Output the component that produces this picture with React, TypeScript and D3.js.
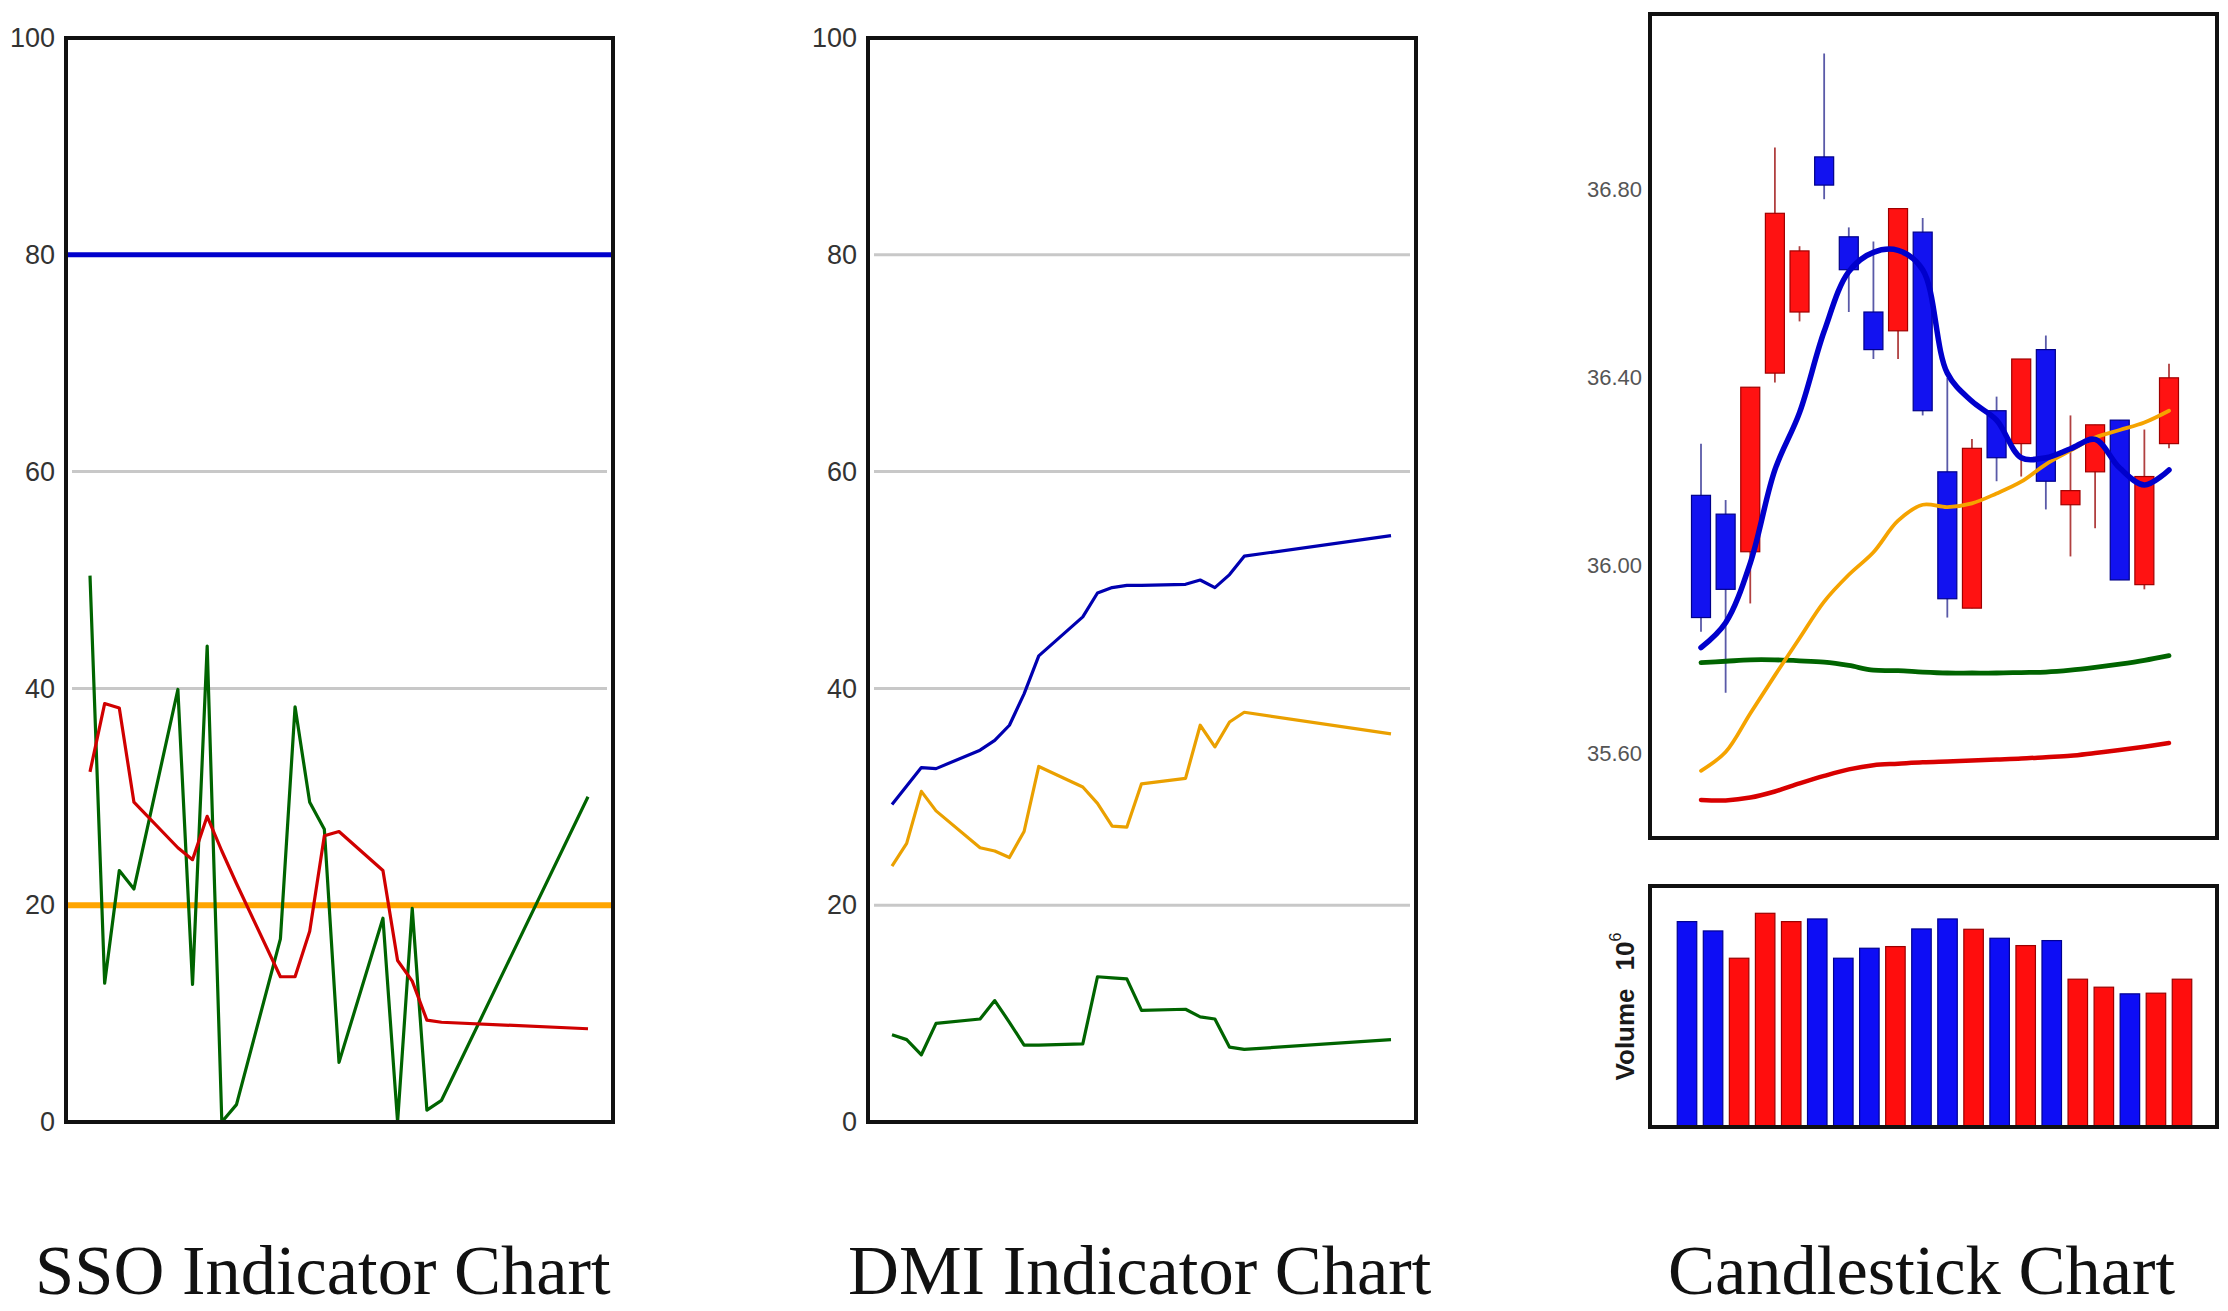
import React, { useEffect, useRef } from 'react';
import * as d3 from 'd3';

// trading day offsets shared by the SSO / DMI panels (gaps = non-trading days)
const dayIndex = [0, 1, 2, 3, 6, 7, 8, 9, 10, 13, 14, 15, 16, 17, 20, 21, 22, 23, 24, 34];

// SSO indicator
const ssoK = [50.4, 12.8, 23.2, 21.5, 39.9, 12.7, 43.9, 0, 1.6, 16.9, 38.3, 29.5, 27.0, 5.5, 18.8, 0, 19.7, 1.1, 2.0, 30.0];
const ssoD = [32.3, 38.6, 38.2, 29.5, 25.3, 24.2, 28.2, 25.0, 22.0, 13.4, 13.4, 17.6, 26.4, 26.8, 23.2, 14.9, 13.0, 9.4, 9.2, 8.6];
const ssoUpper = 80;
const ssoLower = 20;

// DMI indicator
const dmiPdi = [29.3, 31.0, 32.7, 32.6, 34.3, 35.2, 36.6, 39.5, 43.0, 46.6, 48.8, 49.3, 49.5, 49.5, 49.6, 50.0, 49.3, 50.5, 52.2, 54.1];
const dmiAdx = [23.6, 25.7, 30.5, 28.7, 25.3, 25.0, 24.4, 26.8, 32.8, 30.9, 29.4, 27.3, 27.2, 31.2, 31.7, 36.6, 34.6, 36.9, 37.8, 35.8];
const dmiMdi = [8.05, 7.6, 6.2, 9.1, 9.5, 11.2, 9.2, 7.1, 7.1, 7.2, 13.4, 13.3, 13.2, 10.3, 10.4, 9.7, 9.5, 6.9, 6.7, 7.6];

const pctTicks = [0, 20, 40, 60, 80, 100];
const pctGrid = [20, 40, 60, 80];

// candlestick
const open = [36.15, 36.11, 36.03, 36.41, 36.54, 36.87, 36.70, 36.54, 36.50, 36.71, 36.20, 35.91, 36.33, 36.26, 36.46, 36.13, 36.20, 36.31, 35.96, 36.26];
const high = [36.26, 36.14, 36.38, 36.89, 36.68, 37.09, 36.72, 36.69, 36.76, 36.74, 36.40, 36.27, 36.36, 36.44, 36.49, 36.32, 36.30, 36.31, 36.29, 36.43];
const low = [35.86, 35.73, 35.92, 36.39, 36.52, 36.78, 36.54, 36.44, 36.44, 36.32, 35.89, 35.91, 36.18, 36.19, 36.12, 36.02, 36.08, 35.97, 35.95, 36.25];
const close = [35.89, 35.95, 36.38, 36.75, 36.67, 36.81, 36.63, 36.46, 36.76, 36.33, 35.93, 36.25, 36.23, 36.44, 36.18, 36.16, 36.30, 35.97, 36.19, 36.40];

const ma5 = [35.826, 35.879, 36.006, 36.204, 36.326, 36.499, 36.626, 36.667, 36.671, 36.630, 36.41, 36.35, 36.31, 36.230, 36.230, 36.249, 36.269, 36.208, 36.172, 36.204];
const ma10 = [35.564, 35.604, 35.686, 35.767, 35.846, 35.924, 35.981, 36.029, 36.096, 36.130, 36.125, 36.133, 36.154, 36.179, 36.216, 36.245, 36.273, 36.289, 36.305, 36.330];
const ma20 = [35.794, 35.797, 35.800, 35.800, 35.798, 35.795, 35.788, 35.778, 35.777, 35.774, 35.772, 35.772, 35.772, 35.773, 35.774, 35.778, 35.784, 35.791, 35.799, 35.809];
const ma60 = [35.502, 35.501, 35.507, 35.520, 35.537, 35.553, 35.567, 35.576, 35.579, 35.582, 35.584, 35.586, 35.588, 35.590, 35.593, 35.596, 35.602, 35.608, 35.615, 35.623];

const priceTicks = [35.6, 36.0, 36.4, 36.8];

// volume, 10^6
const volume = [6.17, 5.89, 5.07, 6.42, 6.17, 6.25, 5.07, 5.37, 5.42, 5.95, 6.25, 5.94, 5.67, 5.45, 5.60, 4.44, 4.20, 4.00, 4.02, 4.44];

const titles = ['SSO Indicator Chart', 'DMI Indicator Chart', 'Candlestick Chart'];

const W = 2228;
const H = 1311;
const SANS = '"Liberation Sans", Arial, sans-serif';

const App = () => {
  const ref = useRef<SVGSVGElement>(null);

  useEffect(() => {
    const svg = d3.select(ref.current);
    svg.selectAll('*').remove();

    const frame = (x0: number, y0: number, x1: number, y1: number) =>
      svg
        .append('rect')
        .attr('x', x0)
        .attr('y', y0)
        .attr('width', x1 - x0)
        .attr('height', y1 - y0)
        .attr('fill', 'none')
        .attr('stroke', '#111')
        .attr('stroke-width', 4);

    const styleAxis = (g: any, size: number, color: string) => {
      g.select('.domain').remove();
      g.selectAll('text')
        .attr('font-family', SANS)
        .attr('font-size', size)
        .attr('fill', color);
    };

    // ---------- indicator panels (SSO, DMI) ----------
    const top = 38;
    const bottom = 1122;
    const yPct = d3.scaleLinear().domain([0, 100]).range([bottom, top]);

    const indicatorPanel = (
      left: number,
      right: number,
      series: { values: number[]; color: string; width: number }[],
      levels: { value: number; color: string; width: number }[]
    ) => {
      const x = d3
        .scaleLinear()
        .domain([0, 34])
        .range([left + 24, right - 25]);

      svg
        .append('g')
        .selectAll('line')
        .data(pctGrid)
        .join('line')
        .attr('x1', left + 6)
        .attr('x2', right - 6)
        .attr('y1', (d) => yPct(d))
        .attr('y2', (d) => yPct(d))
        .attr('stroke', '#c8c8c8')
        .attr('stroke-width', 3);

      levels.forEach((l) => {
        svg
          .append('line')
          .attr('x1', left)
          .attr('x2', right)
          .attr('y1', yPct(l.value))
          .attr('y2', yPct(l.value))
          .attr('stroke', l.color)
          .attr('stroke-width', l.width);
      });

      series.forEach((s) => {
        const line = d3
          .line<number>()
          .x((_, i) => x(dayIndex[i]))
          .y((d) => yPct(d));
        svg
          .append('path')
          .datum(s.values)
          .attr('fill', 'none')
          .attr('stroke', s.color)
          .attr('stroke-width', s.width)
          .attr('stroke-linejoin', 'round')
          .attr('d', line);
      });

      const ax = svg
        .append('g')
        .attr('transform', `translate(${left},0)`)
        .call(d3.axisLeft(yPct).tickValues(pctTicks).tickSize(0).tickPadding(11));
      styleAxis(ax, 27, '#333');

      frame(left, top, right, bottom);
    };

    indicatorPanel(
      66,
      613,
      [
        { values: ssoK, color: '#006400', width: 3.2 },
        { values: ssoD, color: '#d00000', width: 3.2 },
      ],
      [
        { value: ssoUpper, color: '#0000cc', width: 5 },
        { value: ssoLower, color: '#ffa500', width: 6 },
      ]
    );

    indicatorPanel(
      868,
      1416,
      [
        { values: dmiPdi, color: '#0000b0', width: 3.2 },
        { values: dmiAdx, color: '#eaa000', width: 3.2 },
        { values: dmiMdi, color: '#006400', width: 3.2 },
      ],
      []
    );

    // ---------- candlestick panel ----------
    const cLeft = 1650;
    const cRight = 2217;
    const cTop = 14;
    const cBottom = 838;
    const idx = d3.range(open.length);

    const xC = d3.scaleLinear().domain([0, 19]).range([1701, 2169]);
    const yC = d3.scaleLinear().domain([35.421, 37.174]).range([cBottom, cTop]);
    const bodyW = 19;
    const isUp = (i: number) => close[i] >= open[i];

    svg
      .append('g')
      .selectAll('line')
      .data(idx)
      .join('line')
      .attr('x1', (i) => xC(i))
      .attr('x2', (i) => xC(i))
      .attr('y1', (i) => yC(high[i]))
      .attr('y2', (i) => yC(low[i]))
      .attr('stroke', (i) => (isUp(i) ? '#b04040' : '#5a5aa8'))
      .attr('stroke-width', 1.8);

    svg
      .append('g')
      .selectAll('rect')
      .data(idx)
      .join('rect')
      .attr('x', (i) => xC(i) - bodyW / 2)
      .attr('width', bodyW)
      .attr('y', (i) => yC(Math.max(open[i], close[i])))
      .attr('height', (i) => Math.max(2, Math.abs(yC(open[i]) - yC(close[i]))))
      .attr('fill', (i) => (isUp(i) ? '#ff1212' : '#1212f0'))
      .attr('stroke', (i) => (isUp(i) ? '#a00000' : '#00008a'))
      .attr('stroke-width', 1.2);

    const maLines = [
      { values: ma60, color: '#d80000', width: 4.5 },
      { values: ma20, color: '#006400', width: 4.8 },
      { values: ma10, color: '#f5a300', width: 3.8 },
      { values: ma5, color: '#0000cc', width: 5.5 },
    ];
    maLines.forEach((m) => {
      const line = d3
        .line<number>()
        .curve(d3.curveCatmullRom)
        .x((_, i) => xC(i))
        .y((d) => yC(d));
      svg
        .append('path')
        .datum(m.values)
        .attr('fill', 'none')
        .attr('stroke', m.color)
        .attr('stroke-width', m.width)
        .attr('stroke-linecap', 'round')
        .attr('d', line);
    });

    const axC = svg
      .append('g')
      .attr('transform', `translate(${cLeft},0)`)
      .call(
        d3
          .axisLeft(yC)
          .tickValues(priceTicks)
          .tickFormat(d3.format('.2f'))
          .tickSize(0)
          .tickPadding(8)
      );
    styleAxis(axC, 22, '#555');

    frame(cLeft, cTop, cRight, cBottom);

    // ---------- volume panel ----------
    const vTop = 886;
    const vBottom = 1127;
    const xV = d3.scaleLinear().domain([0, 19]).range([1687, 2182]);
    const yV = d3.scaleLinear().domain([0, 7.24]).range([vBottom, vTop]);
    const barW = 19.5;

    svg
      .append('g')
      .selectAll('rect')
      .data(idx)
      .join('rect')
      .attr('x', (i) => xV(i) - barW / 2)
      .attr('width', barW)
      .attr('y', (i) => yV(volume[i]))
      .attr('height', (i) => yV(0) - yV(volume[i]))
      .attr('fill', (i) => (isUp(i) ? '#ff0d0d' : '#0d0df5'))
      .attr('stroke', (i) => (isUp(i) ? '#9a0000' : '#000090'))
      .attr('stroke-width', 1.2);

    const vLabel = svg
      .append('text')
      .attr('transform', `translate(1625,${(vTop + vBottom) / 2}) rotate(-90)`)
      .attr('text-anchor', 'middle')
      .attr('dominant-baseline', 'central')
      .attr('font-family', SANS)
      .attr('font-weight', 'bold')
      .attr('font-size', 26)
      .attr('fill', '#1a1a1a');
    vLabel.append('tspan').text('Volume');
    vLabel.append('tspan').attr('dx', 18).text('10');
    vLabel
      .append('tspan')
      .attr('dy', -10)
      .attr('font-size', 16)
      .attr('font-weight', 'normal')
      .text('6');

    frame(cLeft, vTop, cRight, vBottom);

    // ---------- titles ----------
    const titleX = [35, 848, 1668];
    titles.forEach((t, i) => {
      svg
        .append('text')
        .attr('x', titleX[i])
        .attr('y', 1294)
        .attr('font-family', '"Liberation Serif", "Times New Roman", serif')
        .attr('font-size', 70.5)
        .attr('fill', '#111')
        .text(t);
    });
  }, []);

  return (
    <>
      <style>{'body{margin:0;background:#fff}'}</style>
      <svg ref={ref} width={W} height={H} style={{ display: 'block', background: '#fff' }} />
    </>
  );
};

export default App;
